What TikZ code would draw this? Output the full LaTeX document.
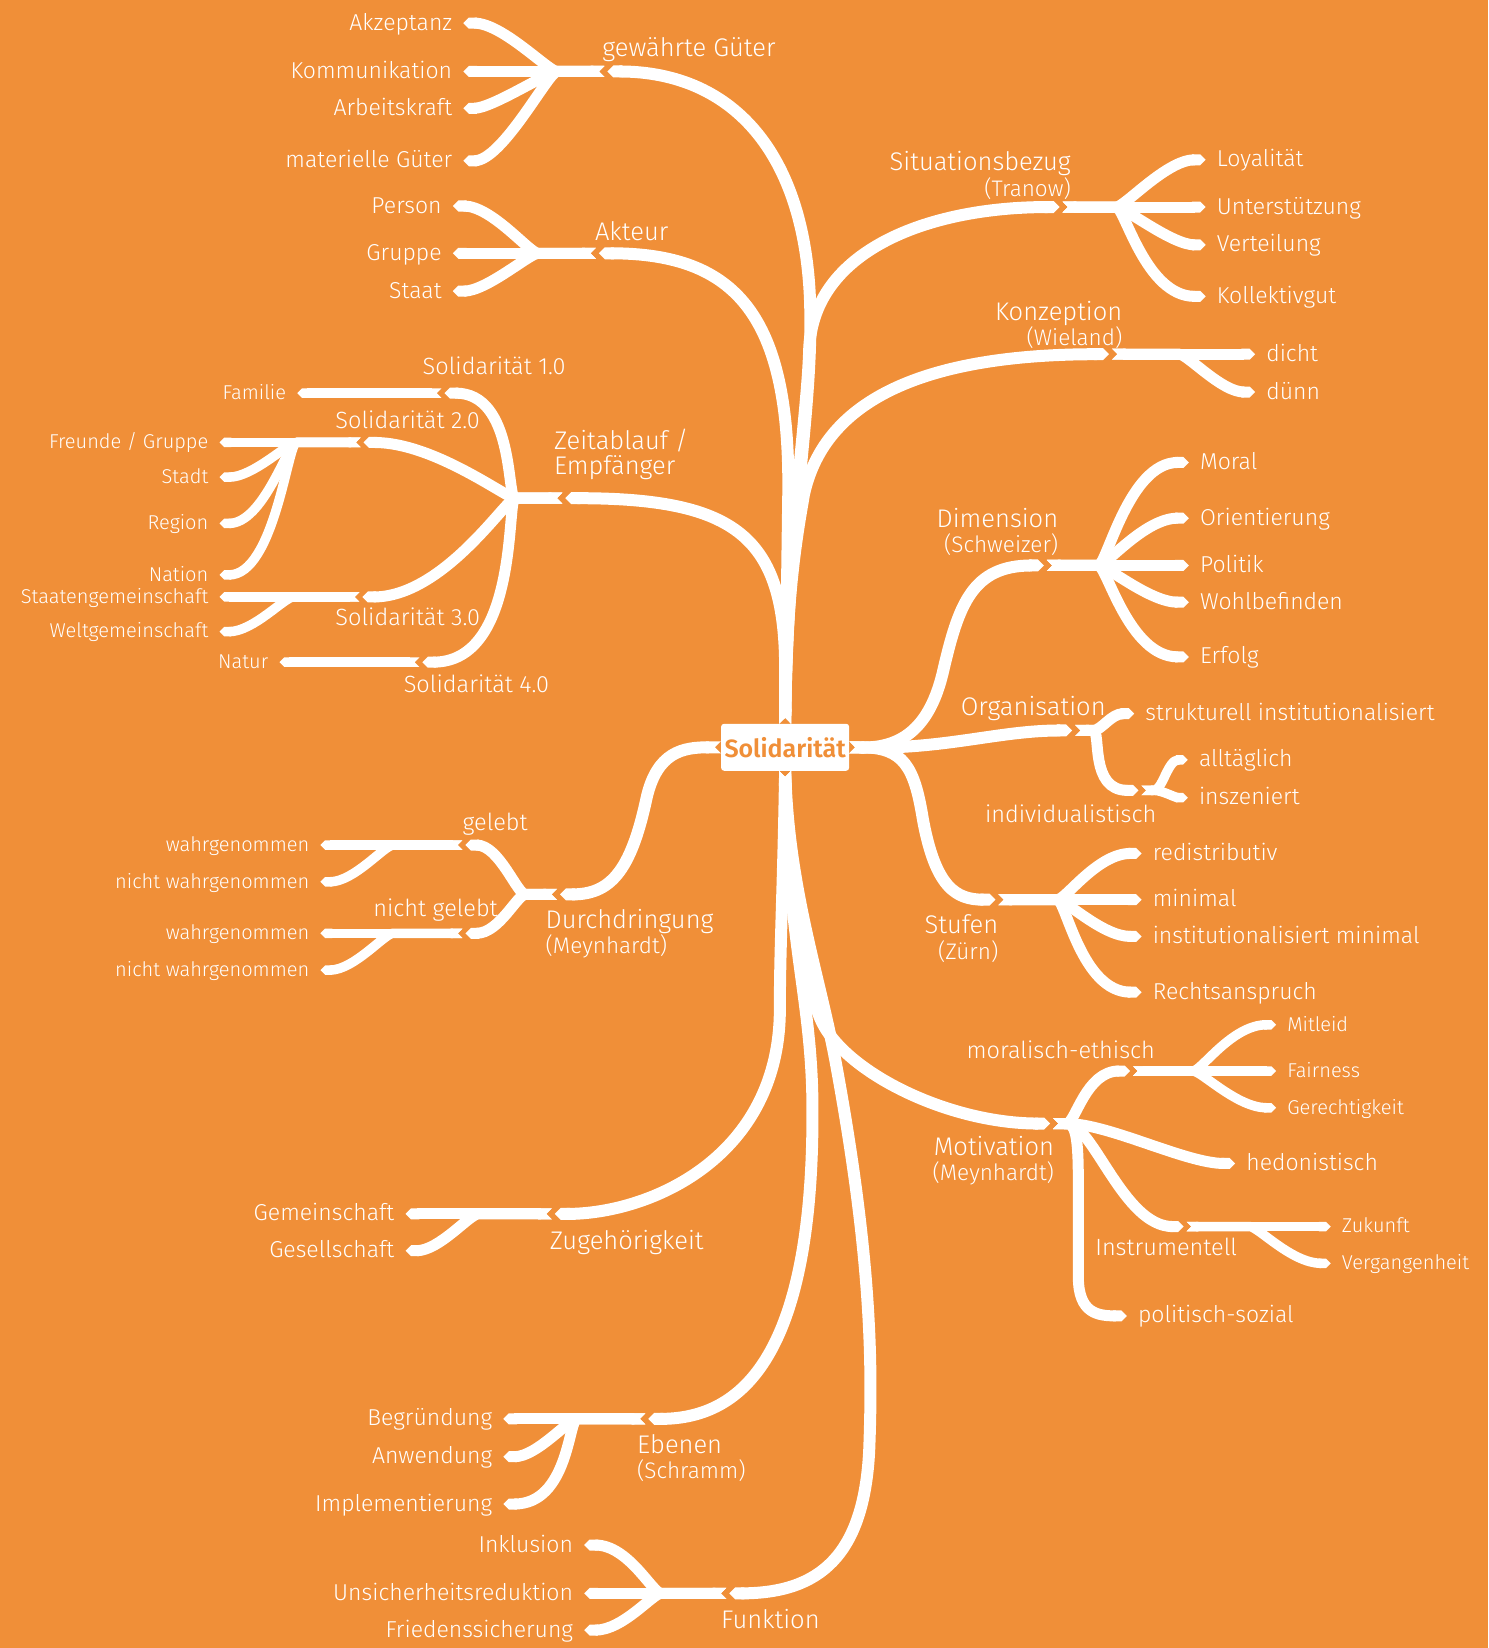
\documentclass[tikz,border=0pt]{standalone}
\usepackage{fontspec}
\setmainfont{Fira Sans}[UprightFont=* Light, BoldFont=* SemiBold]
\usetikzlibrary{arrows.meta, positioning}
\definecolor{solorange}{HTML}{F08F38}
\tikzset{
  stem/.style={draw=white, line width=12pt, line join=round, shorten >=3pt,
               {Triangle Cap[reversed]}-{Triangle Cap}},
  twig/.style={stem, line width=11pt},
  twigs/.style={stem, line width=9.5pt},
  forkL/.style={to path={.. controls +(-8,0) and +(#1,0) .. (\tikztotarget)}}, forkL/.default=40,
  forkR/.style={to path={.. controls +(8,0) and +(-#1,0) .. (\tikztotarget)}}, forkR/.default=40,
  hd/.style={text=white, inner sep=0pt, font=\fontsize{25.5}{25.5}\selectfont},
  sub/.style={hd, font=\fontsize{23.5}{25}\selectfont},
  lf/.style={text=white, inner xsep=8pt, inner ysep=0pt, text height=18pt, text depth=4pt,
             font=\fontsize{23}{25}\selectfont},
  lfl/.style={lf, anchor=east},
  lfr/.style={lf, anchor=west},
  lsl/.style={lfl, text height=16pt, text depth=3.5pt, font=\fontsize{20}{22}\selectfont},
  lsr/.style={lfr, text height=16pt, text depth=3.5pt, font=\fontsize{20}{22}\selectfont},
  core/.style={rectangle, rounded corners=3pt, fill=white, text=solorange, inner sep=2pt,
               minimum width=128pt, minimum height=47pt, font=\fontsize{25}{26}\selectfont\bfseries},
}
\newcommand{\srcname}[1]{{\fontsize{22.5}{25.5}\selectfont #1}}

\begin{document}
\begin{tikzpicture}[x=1.0508pt, y=-1.0508pt]
  \fill[solorange] (0,0) rectangle (1416,1568);
  \useasboundingbox (0,0) rectangle (1416,1568);

  % centre and junctions
  \node[core] (sol) at (747,711) {Solidarität};
  \coordinate (jgg) at (575,68);
  \coordinate (jak) at (567,241);
  \coordinate (jze) at (535,474);
  \coordinate (jsi) at (1011,197);
  \coordinate (jko) at (1058,337);
  \coordinate (jdi) at (996,538);
  \coordinate (jor) at (1023,695);
  \coordinate (jst) at (950,856);
  \coordinate (jdu) at (530,851);
  \coordinate (jmo) at (1002,1069);
  \coordinate (jzu) at (525,1155);
  \coordinate (jeb) at (614,1350);
  \coordinate (jfu) at (691,1516);

  % main branches
  \draw[stem] (sol.north) .. controls (750,500) and (772,400) .. (771,300) .. controls (770,150) and (700,68) .. (jgg);
  \draw[stem] (sol.north) -- (750,470) .. controls (752,300) and (700,241) .. (jak);
  \draw[stem] (sol.north) -- (747,640) .. controls (748,510) and (700,474) .. (jze);
  \draw[stem] (sol.north) .. controls (750,500) and (768,400) .. (770,330) .. controls (775,240) and (880,197) .. (jsi);
  \draw[stem] (sol.north) .. controls (748,560) and (760,500) .. (765,470) .. controls (785,380) and (880,337) .. (jko);
  \draw[stem] (sol.east) .. controls (860,712) and (885,690) .. (897,640) .. controls (912,575) and (925,538) .. (jdi);
  \draw[stem] (sol.east) .. controls (900,713) and (950,695) .. (jor);
  \draw[stem] (sol.east) .. controls (860,711) and (870,730) .. (878,779) .. controls (890,845) and (910,856) .. (jst);
  \draw[stem] (sol.west) .. controls (650,711) and (625,715) .. (615,760) .. controls (600,830) and (580,851) .. (jdu);
  \draw[stem] (sol.south) .. controls (750,850) and (765,930) .. (780,968) .. controls (800,1018) and (900,1069) .. (jmo);
  \draw[stem] (sol.south) .. controls (745,850) and (742,900) .. (742,960) .. controls (742,1100) and (620,1155) .. (jzu);
  \draw[stem] (sol.south) .. controls (750,900) and (772,950) .. (773,1050) .. controls (775,1300) and (700,1350) .. (jeb);
  \draw[stem] (sol.south) .. controls (752,850) and (780,930) .. (795,1010) .. controls (830,1200) and (830,1300) .. (827,1380)
              .. controls (822,1480) and (780,1516) .. (jfu);

  % gewaehrte Gueter
  \node[lfl] (akz) at (438,22) {Akzeptanz};
  \node[lfl] (kom) at (438,68) {Kommunikation};
  \node[lfl] (arb) at (438,103) {Arbeitskraft};
  \node[lfl] (mat) at (438,153) {materielle Güter};
  \draw[twig] (jgg) -- (kom.east);
  \foreach \o/\b in {akz/40,arb/30,mat/40} \draw[twig] (jgg) -- ++(-45,0) to[forkL=\b] (\o.east);

  % Akteur
  \node[lfl] (per) at (428,196) {Person};
  \node[lfl] (gru) at (428,241) {Gruppe};
  \node[lfl] (sta) at (428,277) {Staat};
  \draw[twig] (jak) -- (gru.east);
  \foreach \o/\b in {per/40,sta/35} \draw[twig] (jak) -- ++(-55,0) to[forkL=\b] (\o.east);

  % Zeitablauf / Empfaenger
  \coordinate (j10) at (420,374);
  \coordinate (j20) at (343,421);
  \coordinate (j30) at (342,568);
  \coordinate (j40) at (399,630);
  \foreach \o/\b in {j10/70,j20/70,j30/80,j40/95} \draw[twig] (jze) -- ++(-45,0) to[forkL=\b] (\o);
  \node[lsl] (fam) at (280,374) {Familie};
  \node[lsl] (fre) at (206,421) {Freunde / Gruppe};
  \node[lsl] (std) at (206,454) {Stadt};
  \node[lsl] (reg) at (206,498) {Region};
  \node[lsl] (nat) at (206,547) {Nation};
  \node[lsl] (stg) at (206,568) {Staatengemeinschaft};
  \node[lsl] (wel) at (206,601) {Weltgemeinschaft};
  \node[lsl] (ntr) at (263,630) {Natur};
  \draw[twigs] (j10) -- (fam.east);
  \draw[twigs] (j20) -- (fre.east);
  \foreach \o/\b in {std/35,reg/45,nat/55} \draw[twigs] (j20) -- ++(-61,0) to[forkL=\b] (\o.east);
  \draw[twigs] (j30) -- (stg.east);
  \draw[twigs] (j30) -- ++(-63,0) to[forkL=35] (wel.east);
  \draw[twigs] (j40) -- (ntr.east);
  \node[sub, anchor=base west] (s10) at (402,356) {Solidarität 1.0};
  \node[sub, anchor=base west] (s20) at (319,408) {Solidarität 2.0};
  \node[sub, anchor=base west] (s30) at (319,595) {Solidarität 3.0};
  \node[sub, anchor=base west] (s40) at (384,659) {Solidarität 4.0};

  % Situationsbezug
  \node[lfr] (loy) at (1150,152) {Loyalität};
  \node[lfr] (unt) at (1150,197) {Unterstützung};
  \node[lfr] (ver) at (1150,233) {Verteilung};
  \node[lfr] (kol) at (1150,282) {Kollektivgut};
  \draw[twig] (jsi) -- (unt.west);
  \foreach \o/\b in {loy/40,ver/35,kol/60} \draw[twig] (jsi) -- ++(51,0) to[forkR=\b] (\o.west);

  % Konzeption
  \node[lfr] (dic) at (1197,337) {dicht};
  \node[lfr] (due) at (1197,373) {dünn};
  \draw[twig] (jko) -- (dic.west);
  \draw[twig] (jko) -- ++(64,0) to[forkR=35] (due.west);

  % Dimension
  \node[lfr] (mor) at (1134,440) {Moral};
  \node[lfr] (ori) at (1134,493) {Orientierung};
  \node[lfr] (pol) at (1134,538) {Politik};
  \node[lfr] (woh) at (1134,573) {Wohlbefinden};
  \node[lfr] (erf) at (1134,625) {Erfolg};
  \draw[twig] (jdi) -- (pol.west);
  \foreach \o/\b in {mor/60,ori/45,woh/40,erf/60} \draw[twig] (jdi) -- ++(49,0) to[forkR=\b] (\o.west);

  % Organisation
  \coordinate (jind) at (1086,752);
  \node[lfr] (str) at (1082,679) {strukturell institutionalisiert};
  \node[lfr] (all) at (1133,723) {alltäglich};
  \node[lfr] (ins) at (1133,759) {inszeniert};
  \draw[twig] (jor) -- ++(17,0) to[forkR=25] (str.west);
  \draw[twig] (jor) -- ++(17,0) to[forkR=50] (jind);
  \draw[twigs] (jind) -- ++(12,0) to[forkR=22] (all.west);
  \draw[twigs] (jind) -- ++(12,0) to[forkR=15] (ins.west);
  \node[sub, anchor=base west] (ind) at (937,783) {individualistisch};

  % Stufen
  \node[lfr] (red) at (1089,812) {redistributiv};
  \node[lfr] (min) at (1089,856) {minimal};
  \node[lfr] (inm) at (1089,891) {institutionalisiert minimal};
  \node[lfr] (rec) at (1089,944) {Rechtsanspruch};
  \draw[twig] (jst) -- (min.west);
  \foreach \o/\b in {red/45,inm/40,rec/60} \draw[twig] (jst) -- ++(56,0) to[forkR=\b] (\o.west);

  % Durchdringung
  \coordinate (jgel) at (440,804);
  \coordinate (jngel) at (440,888);
  \foreach \o in {jgel,jngel} \draw[twig] (jdu) -- ++(-30,0) to[forkL=35] (\o);
  \node[lsl] (wg1) at (302,804) {wahrgenommen};
  \node[lsl] (nw1) at (302,839) {nicht wahrgenommen};
  \node[lsl] (wg2) at (302,888) {wahrgenommen};
  \node[lsl] (nw2) at (302,923) {nicht wahrgenommen};
  \draw[twigs] (jgel) -- (wg1.east);
  \draw[twigs] (jgel) -- ++(-66,0) to[forkL=35] (nw1.east);
  \draw[twigs] (jngel) -- (wg2.east);
  \draw[twigs] (jngel) -- ++(-66,0) to[forkL=35] (nw2.east);
  \node[sub, anchor=base west] (gel) at (440,790) {gelebt};
  \node[sub, anchor=base west] (ngel) at (355,872) {nicht gelebt};

  % Motivation
  \coordinate (jme) at (1078,1019);
  \coordinate (jin) at (1129,1167);
  \node[lfr] (hed) at (1178,1107) {hedonistisch};
  \node[lfr] (pos) at (1075,1252) {politisch-sozial};
  \draw[twig] (jmo) -- ++(13,0) to[forkR=45] (jme);
  \draw[twig] (jmo) -- ++(13,0) .. controls +(40,0) and +(-50,0) .. (hed.west);
  \draw[twig] (jmo) -- ++(13,0) .. controls +(25,0) and +(-60,0) .. (jin);
  \draw[twig] (jmo) -- ++(13,0) .. controls +(10,0) and +(0,-40) .. (1026,1130) -- (1026,1215)
              .. controls +(0,35) and +(-30,0) .. (pos.west);
  \node[lsr] (mit) at (1217,975) {Mitleid};
  \node[lsr] (fai) at (1217,1019) {Fairness};
  \node[lsr] (ger) at (1217,1054) {Gerechtigkeit};
  \draw[twigs] (jme) -- (fai.west);
  \foreach \o/\b in {mit/45,ger/40} \draw[twigs] (jme) -- ++(57,0) to[forkR=\b] (\o.west);
  \node[lsr] (zuk) at (1269,1167) {Zukunft};
  \node[lsr] (vgh) at (1269,1202) {Vergangenheit};
  \draw[twigs] (jin) -- (zuk.west);
  \draw[twigs] (jin) -- ++(60,0) to[forkR=40] (vgh.west);
  \node[sub, anchor=base east] (lme) at (1099,1007) {moralisch-ethisch};
  \node[sub, anchor=base west] (lin) at (1042,1195) {Instrumentell};

  % Zugehoerigkeit
  \node[lfl] (gem) at (383,1155) {Gemeinschaft};
  \node[lfl] (ges) at (383,1190) {Gesellschaft};
  \draw[twig] (jzu) -- (gem.east);
  \draw[twig] (jzu) -- ++(-70,0) to[forkL=35] (ges.east);

  % Ebenen
  \node[lfl] (beg) at (476,1350) {Begründung};
  \node[lfl] (anw) at (476,1386) {Anwendung};
  \node[lfl] (imp) at (476,1431) {Implementierung};
  \draw[twig] (jeb) -- (beg.east);
  \foreach \o/\b in {anw/35,imp/65} \draw[twig] (jeb) -- ++(-65,0) to[forkL=\b] (\o.east);

  % Funktion
  \node[lfl] (ink) at (553,1470) {Inklusion};
  \node[lfl] (uns) at (553,1516) {Unsicherheitsreduktion};
  \node[lfl] (fri) at (553,1551) {Friedenssicherung};
  \draw[twig] (jfu) -- (uns.east);
  \foreach \o/\b in {ink/45,fri/40} \draw[twig] (jfu) -- ++(-62,0) to[forkL=\b] (\o.east);

  % branch labels
  \node[hd, anchor=base west] (lgg) at (573,54) {gewährte Güter};
  \node[hd, anchor=base west] (lak) at (566,229) {Akteur};
  \node[hd, anchor=south west, align=left] (lze) at (527,457) {Zeitablauf /\\Empfänger};
  \node[hd, anchor=south east, align=right] (lsi) at (1019,190) {Situationsbezug\\\srcname{(Tranow)}};
  \node[hd, anchor=south east, align=right] (lko) at (1068,332) {Konzeption\\\srcname{(Wieland)}};
  \node[hd, anchor=south east, align=right] (ldi) at (1007,529) {Dimension\\\srcname{(Schweizer)}};
  \node[hd, anchor=base west] (lor) at (914,681) {Organisation};
  \node[hd, anchor=south east, align=right] (lst) at (950,916) {Stufen\\\srcname{(Zürn)}};
  \node[hd, anchor=south west, align=left] (ldu) at (519,912) {Durchdringung\\\srcname{(Meynhardt)}};
  \node[hd, anchor=south east, align=right] (lmo) at (1003,1128) {Motivation\\\srcname{(Meynhardt)}};
  \node[hd, anchor=base west] (lzu) at (523,1189) {Zugehörigkeit};
  \node[hd, anchor=south west, align=left] (leb) at (606,1410) {Ebenen\\\srcname{(Schramm)}};
  \node[hd, anchor=base west] (lfu) at (686,1549) {Funktion};
\end{tikzpicture}
\end{document}
